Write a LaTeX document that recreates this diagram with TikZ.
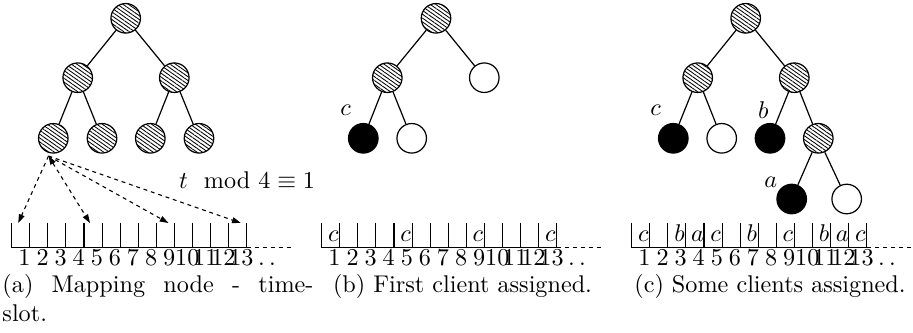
\documentclass[tikz,border=0pt]{standalone}
\usepackage{graphicx}
\usepackage{amsmath}
\usetikzlibrary{patterns.meta,arrows.meta,calc}

% one row of 13 time slots: #1 = x of the first tick, #2 = name prefix
\newcommand\slotrow[2]{%
  \foreach \i in {0,...,13}{%
    \coordinate (#2t\i) at ({#1+\i*18.08},223);
    \coordinate (#2b\i) at ({#1+\i*18.08},247.5);
    \draw[tick] (#2t\i) -- (#2b\i);
  }
  \draw[tick] (#2b0) -- (#2b13);
  \draw[tick,dash pattern=on 1.65pt off 1.65pt] (#2b13) -- ++(44,0);
  \foreach \k in {1,...,13}{%
    \node[slotno,anchor=base] (#2n\k) at ({#1+(\k-0.5)*18.08+3.8},265.7) {\k};
  }
  \node[slotno,anchor=base west] (#2dots) at ({#1+13*18.08+11},265.7) {.\kern1.7pt.};
}
% client letter written inside slot #3 of the row starting at #1
\newcommand\slotmark[3]{%
  \node[client,anchor=base] at ({#1+(#3-0.5)*18.08+2.6},241.3) {$#2$};
}

\begin{document}
\begin{tikzpicture}[x=0.4132pt,y=-0.4132pt,
  vtx/.style={circle,draw,line width=0.5pt,minimum size=12.2pt,inner sep=0pt},
  hatched/.style={vtx,pattern={Lines[angle=-35,distance=1.3pt,line width=0.35pt]}},
  taken/.style={vtx,fill=black},
  free/.style={vtx,fill=white},
  edge/.style={line width=0.5pt},
  tick/.style={line width=0.45pt},
  slotno/.style={inner sep=0pt},
  client/.style={inner sep=0pt},
  map/.style={line width=0.45pt,dash pattern=on 1.6pt off 1.6pt,-{Triangle[length=3.6pt,width=2.4pt]}},
  caption/.style={inner sep=0pt}
]
\useasboundingbox (0,0) rectangle (913,333);

% ---------------- (a) mapping node - time-slot ----------------
\node[hatched] (a0)  at (125.7,18.3) {};
\node[hatched] (a1)  at (77.7,77.7) {};
\node[hatched] (a2)  at (174.3,77.7) {};
\node[hatched] (a11) at (53.3,138.3) {};
\node[hatched] (a12) at (102,138.3) {};
\node[hatched] (a21) at (150.3,138.3) {};
\node[hatched] (a22) at (199,138.3) {};
\draw[edge] (a0) -- (a1) (a0) -- (a2)
            (a1) -- (a11) (a1) -- (a12)
            (a2) -- (a21) (a2) -- (a22);

\slotrow{11.7}{a}
\coordinate (src) at (48.5,156);
\draw[map] (src) -- ($(at0)!0.36!(at1)$);
\draw[map,{Triangle[length=3.6pt,width=2.4pt]}-{Triangle[length=3.6pt,width=2.4pt]}] (src) -- ($(at4)!0.33!(at5)$);
\draw[map] (src) -- ($(at8)!0.67!(at9)$);
\draw[map] (src) -- ($(at12)!0.67!(at13)$);

\node[caption] (modlabel) at (247,180) {$t \mod 4 \equiv 1$};

\node[caption,anchor=north west,text width=128.5pt,align=left] (capa) at (2,274)
  {(a)\hfill Mapping\hfill node\hfill -\hfill time-\\slot.};

% ---------------- (b) first client assigned ----------------
\node[hatched] (b0)  at (436,18.3) {};
\node[hatched] (b1)  at (387.3,77.7) {};
\node[free]    (b2)  at (484.3,77.7) {};
\node[taken]   (b11) at (363.3,138.3) {};
\node[free]    (b12) at (411.7,138.3) {};
\draw[edge] (b0) -- (b1) (b0) -- (b2)
            (b1) -- (b11) (b1) -- (b12);
\node[client] (bc) at (345.7,110) {$c$};

\slotrow{321.7}{b}
\foreach \s in {1,5,9,13}{\slotmark{321.7}{c}{\s}}

\node[caption,anchor=north] (capb) at (462.5,274) {(b) First client assigned.};

% ---------------- (c) some clients assigned ----------------
\node[hatched] (c0)   at (745.7,18.3) {};
\node[hatched] (c1)   at (697.7,77.7) {};
\node[hatched] (c2)   at (794.3,77.7) {};
\node[taken]   (c11)  at (673.3,138.3) {};
\node[free]    (c12)  at (721.7,138.3) {};
\node[taken]   (c21)  at (770,138.3) {};
\node[hatched] (c22)  at (818.3,138.3) {};
\node[taken]   (c221) at (791.7,199) {};
\node[free]    (c222) at (846.7,199) {};
\draw[edge] (c0) -- (c1) (c0) -- (c2)
            (c1) -- (c11) (c1) -- (c12)
            (c2) -- (c21) (c2) -- (c22)
            (c22) -- (c221) (c22) -- (c222);
\node[client] (cc) at (655.7,110) {$c$};
\node[client] (cb) at (763.3,110) {$b$};
\node[client] (ca) at (770.7,182) {$a$};

\slotrow{631.7}{c}
\foreach \s/\l in {1/c,3/b,4/a,5/c,7/b,9/c,11/b,12/a,13/c}{\slotmark{631.7}{\l}{\s}}

\node[caption,anchor=north] (capc) at (770,274) {(c) Some clients assigned.};
\end{tikzpicture}
\end{document}
